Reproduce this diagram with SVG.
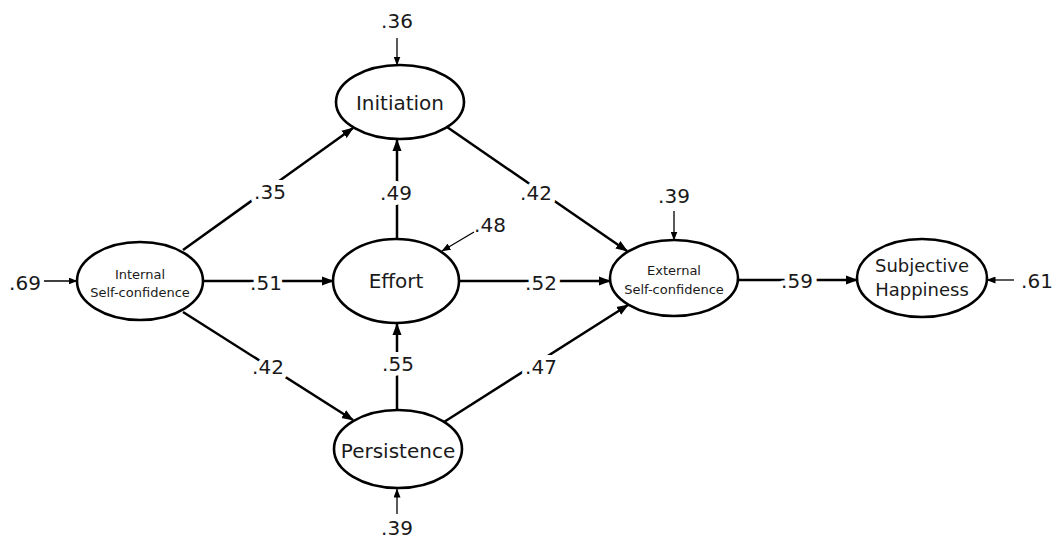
<svg xmlns="http://www.w3.org/2000/svg" width="1056" height="538" viewBox="0 0 1056 538">
<style>
.node ellipse{fill:#fff;stroke:#000;stroke-width:2.6}
.lbl{font-family:"DejaVu Sans","Liberation Sans",sans-serif;font-size:20px;fill:#1a1a1a;text-anchor:middle}
.sm{font-family:"DejaVu Sans","Liberation Sans",sans-serif;font-size:13px;fill:#1a1a1a;text-anchor:middle}
.sh{font-family:"DejaVu Sans","Liberation Sans",sans-serif;font-size:18px;fill:#1a1a1a;text-anchor:middle}
.num{font-family:"DejaVu Sans","Liberation Sans",sans-serif;font-size:20px;fill:#1a1a1a;text-anchor:middle;stroke:#fff;stroke-width:10;paint-order:stroke;stroke-linejoin:round}
.num2{font-family:"DejaVu Sans","Liberation Sans",sans-serif;font-size:20px;fill:#1a1a1a;text-anchor:middle}
.c{stroke:#000;stroke-width:2.5;fill:none;marker-end:url(#ah)}
.e{stroke:#000;stroke-width:1.3;fill:none;marker-end:url(#ahs)}
</style>
<defs>
<marker id="ah" markerUnits="userSpaceOnUse" markerWidth="12" markerHeight="10" viewBox="0 0 12 10" refX="11" refY="5" orient="auto">
<path d="M0,0.5 L12,5 L0,9.5 z" fill="#000"/>
</marker>
<marker id="ahs" markerUnits="userSpaceOnUse" markerWidth="9" markerHeight="7" viewBox="0 0 9 7" refX="8.5" refY="3.5" orient="auto">
<path d="M0,0 L9,3.5 L0,7 z" fill="#000"/>
</marker>
</defs>
<rect width="1056" height="538" fill="#fff"/>
<g id="connectors">
<line class="c" x1="183" y1="250" x2="353" y2="128"/>
<line class="c" x1="203" y1="281" x2="333" y2="281"/>
<line class="c" x1="183" y1="312" x2="353" y2="420"/>
<line class="c" x1="397" y1="239" x2="397" y2="140"/>
<line class="c" x1="397" y1="410" x2="397" y2="324"/>
<line class="c" x1="447" y1="127" x2="627" y2="251"/>
<line class="c" x1="459" y1="281" x2="610" y2="281"/>
<line class="c" x1="444" y1="422" x2="628" y2="305"/>
<line class="c" x1="738" y1="280" x2="857" y2="280"/>
<line class="e" x1="44" y1="281" x2="77" y2="281"/>
<line class="e" x1="397" y1="38" x2="397" y2="65"/>
<line class="e" x1="474" y1="232" x2="442" y2="251"/>
<line class="e" x1="674" y1="211" x2="674" y2="240"/>
<line class="e" x1="397" y1="514" x2="397" y2="489"/>
<line class="e" x1="1014" y1="280" x2="987" y2="280"/>
<text class="num" x="270" y="199">.35</text>
<text class="num" x="266" y="290">.51</text>
<text class="num" x="268" y="374">.42</text>
<text class="num" x="396" y="200">.49</text>
<text class="num" x="536" y="200">.42</text>
<text class="num" x="541" y="290">.52</text>
<text class="num" x="398" y="371">.55</text>
<text class="num" x="541" y="374">.47</text>
<text class="num" x="797" y="288">.59</text>
<text class="num2" x="490" y="232">.48</text>
<text class="num2" x="25" y="290">.69</text>
<text class="num2" x="397" y="28">.36</text>
<text class="num2" x="674" y="203">.39</text>
<text class="num2" x="397" y="535">.39</text>
<text class="num2" x="1037" y="288">.61</text>
</g>
<g id="internal" class="node">
<ellipse cx="140" cy="281" rx="63" ry="39"/>
<text class="sm" x="140" y="279">Internal</text>
<text class="sm" x="140" y="297">Self-confidence</text>
</g>
<g id="initiation" class="node">
<ellipse cx="400" cy="102" rx="64" ry="37"/>
<text class="lbl" x="400" y="110">Initiation</text>
</g>
<g id="effort" class="node">
<ellipse cx="396" cy="281" rx="63" ry="42"/>
<text class="lbl" x="396" y="288">Effort</text>
</g>
<g id="persistence" class="node">
<ellipse cx="398" cy="449" rx="64" ry="39"/>
<text class="lbl" x="398" y="458">Persistence</text>
</g>
<g id="external" class="node">
<ellipse cx="674" cy="278" rx="64" ry="38"/>
<text class="sm" x="674" y="275">External</text>
<text class="sm" x="674" y="294">Self-confidence</text>
</g>
<g id="happiness" class="node">
<ellipse cx="922" cy="278" rx="65" ry="39"/>
<text class="sh" x="922" y="272">Subjective</text>
<text class="sh" x="922" y="296">Happiness</text>
</g>
</svg>
